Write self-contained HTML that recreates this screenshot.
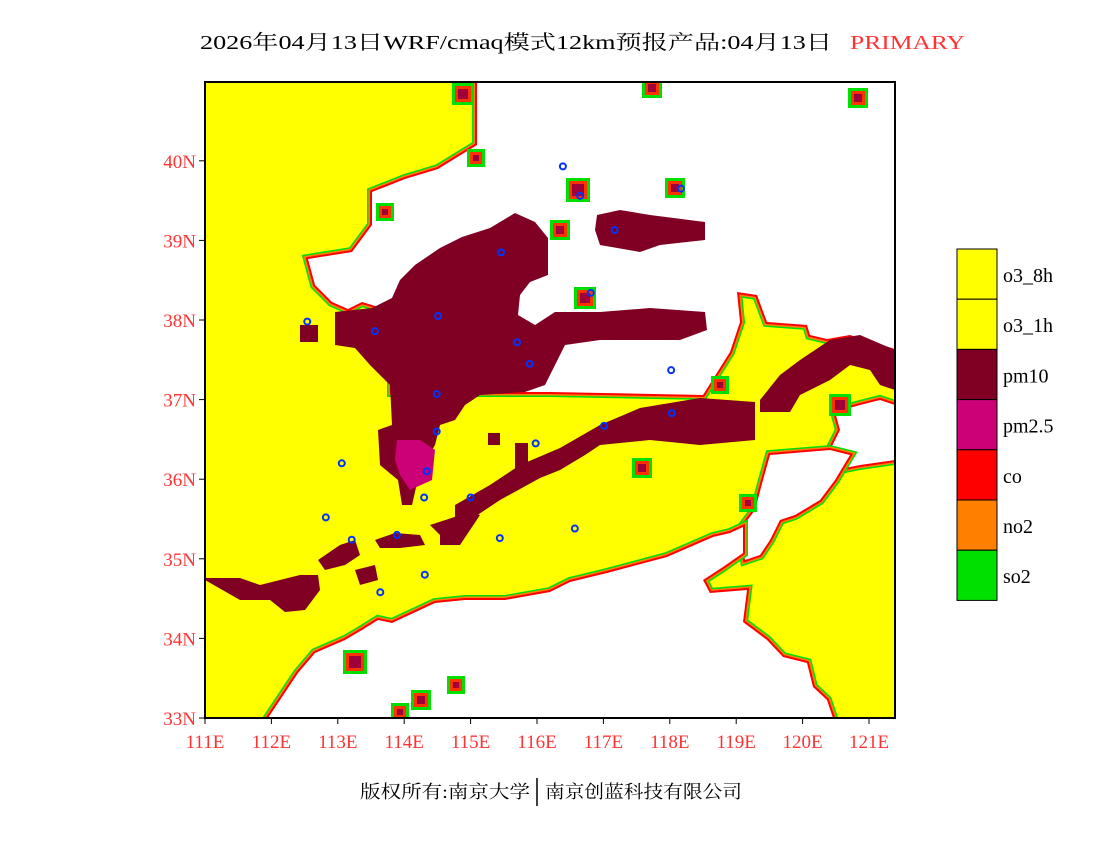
<!DOCTYPE html>
<html><head><meta charset="utf-8"><style>
html,body{margin:0;padding:0;background:#fff;}
svg{display:block;}
text{font-family:"Liberation Serif","Noto Serif CJK SC","Noto Sans CJK SC",serif;}
</style></head><body>
<svg id="map" width="1100" height="850" viewBox="0 0 1100 850" xmlns="http://www.w3.org/2000/svg">
<defs><clipPath id="clip"><rect x="205" y="82" width="690" height="636"/></clipPath></defs>
<text x="200" y="49" font-size="20" textLength="632" lengthAdjust="spacingAndGlyphs" fill="#000">2026年04月13日WRF/cmaq模式12km预报产品:04月13日</text>
<text x="850" y="49" font-size="20" textLength="115" lengthAdjust="spacingAndGlyphs" fill="#ff3333">PRIMARY</text>
<g clip-path="url(#clip)">
<rect x="205" y="82" width="690" height="636" fill="#ffff00"/>
<g id="whites"></g>
<g id="browns"></g>
<g id="stations"></g>
</g>
<rect x="205" y="82" width="690" height="636" fill="none" stroke="#000" stroke-width="2"/>
<g id="xticks"></g>
<g id="yticks"></g>
<g id="legend"></g>
<text x="360" y="798" font-size="18" textLength="170" lengthAdjust="spacingAndGlyphs">版权所有:南京大学</text>
<line x1="537" y1="778" x2="537" y2="806" stroke="#000" stroke-width="1.5"/>
<text x="545" y="798" font-size="18" textLength="197" lengthAdjust="spacingAndGlyphs">南京创蓝科技有限公司</text>
</svg>
<script>
const lonTicks=["111E","112E","113E","114E","115E","116E","117E","118E","119E","120E","121E"];
const lonValues=[111,112,113,114,115,116,117,118,119,120,121];
const latTicks=["33N","34N","35N","36N","37N","38N","39N","40N"];
const latValues=[33,34,35,36,37,38,39,40];
const legendLabels=["o3_8h","o3_1h","pm10","pm2.5","co","no2","so2"];
const legendColors=["#ffff00","#ffff00","#7f0022","#cc0077","#ff0000","#ff8000","#00e000"];
const stationLons=[112.54,113.56,114.51,115.46,115.70,114.49,114.49,114.34,114.30,113.06,112.82,113.21,113.89,115.0,115.44,115.98,116.57,117.01,118.02,118.03,116.39,116.65,116.81,117.17,115.89,118.17,113.64,114.31];
const stationLats=[37.98,37.86,38.05,38.85,37.72,37.07,36.6,36.1,35.77,36.2,35.52,35.24,35.3,35.77,35.26,36.45,35.38,36.67,37.37,36.83,39.93,39.56,38.34,39.13,37.45,39.65,34.58,34.8];
const NS="http://www.w3.org/2000/svg";
function xScale(lon){return 205+(lon-111)*66.4;}
function yScale(lat){return 718-(lat-33)*79.6;}
function mk(tag,attrs,parent){const e=document.createElementNS(NS,tag);for(const k in attrs)e.setAttribute(k,attrs[k]);parent.appendChild(e);return e;}
const whitePolys=[
"477,82 895,82 895,349 850,335 827,339 810,335 807,325 767,322 757,295 737,292 740,322 730,352 713,379 703,395 550,392 392,392 392,300 385,309 362,302 348,309 332,302 315,285 308,259 352,252 372,225 372,192 405,179 438,169 477,145",
"835,412 860,405 880,400 895,405 895,460 860,465 835,470 830,450 840,430",
"770,455 830,450 850,455 835,480 820,500 795,515 780,520 770,540 760,555 745,560 740,530 755,510 763,480",
"268,718 298,673 315,653 345,640 362,630 378,620 392,623 435,603 465,600 505,600 550,592 570,582 607,573 637,565 667,557 690,547 713,537 730,533 743,527 743,553 723,567 703,580 710,593 747,590 743,622 767,640 783,657 807,663 813,687 827,700 833,718"
];
const wg=document.getElementById('whites');
whitePolys.forEach((p,i)=>{
 let e=mk('polygon',{points:p,fill:'#fff',stroke:'#00e000','stroke-width':'10','stroke-linejoin':'miter'},wg);
 
 
 e=mk('polygon',{points:p,fill:'none',stroke:'#ff8000','stroke-width':'7'},wg);
 
 
 e=mk('polygon',{points:p,fill:'none',stroke:'#ff0000','stroke-width':'4'},wg);
 
 
 e=mk('polygon',{points:p,fill:'#fff',stroke:'none'},wg);
 
 
});
const brownPolys=[
"335,312 372,308 392,298 400,280 415,265 440,248 462,237 490,228 515,213 535,222 548,238 548,275 530,282 520,295 518,315 535,325 555,312 600,312 650,308 705,312 707,330 680,340 600,340 565,345 555,365 545,385 525,392 480,395 465,405 455,420 440,425 435,445 420,470 412,505 402,505 398,480 380,465 378,430 392,425 390,385 370,365 355,348 335,345",
"597,215 620,210 650,215 705,222 705,240 660,245 640,252 600,245 595,230",
"455,505 490,485 520,465 560,448 600,425 640,408 700,398 755,402 755,440 700,445 650,440 600,445 585,455 560,470 540,478 500,500 470,520 455,518",
"515,443 528,443 528,477 515,477",
"760,400 780,375 800,360 830,340 860,335 895,350 895,390 880,385 870,370 850,365 830,380 800,395 790,412 760,412",
"205,578 240,578 260,585 300,575 318,575 320,590 305,610 285,612 270,600 240,600 205,580",
"318,560 340,545 355,540 360,555 345,565 325,570",
"355,570 375,565 378,580 360,585",
"375,540 395,533 420,535 425,545 400,548 380,548",
"430,525 470,512 480,515 470,530 440,535",
"300,325 318,325 318,342 300,342",
"440,535 455,525 470,530 460,545 440,545",
"632,458 645,458 645,470 632,470",
"488,433 500,433 500,445 488,445"
];
const bg=document.getElementById('browns');
brownPolys.forEach(p=>{
 const e=mk('polygon',{points:p,fill:'#7f0022'},bg);
 
 
});
const pinkPolys=["397,440 420,440 435,450 432,480 410,490 400,475 395,460"];
pinkPolys.forEach(p=>{
 const e=mk('polygon',{points:p,fill:'#cc0077'},bg);
 
 
});
const blobs=[[463,94,14],[652,88,12],[578,190,16],[560,230,12],[585,298,14],[675,188,12],[385,212,10],[476,158,10],[858,98,12],[355,662,16],[421,700,12],[456,685,10],[400,712,10],[642,468,12],[748,503,10],[840,405,14],[720,385,10]];
blobs.forEach(b=>{
 let e=mk('rect',{x:b[0]-b[2]/2-4,y:b[1]-b[2]/2-4,width:b[2]+8,height:b[2]+8,fill:'#00e000'},bg);
 
 
 e=mk('rect',{x:b[0]-b[2]/2-1,y:b[1]-b[2]/2-1,width:b[2]+2,height:b[2]+2,fill:'#ff3300'},bg);
 
 
 e=mk('rect',{x:b[0]-b[2]/2+2,y:b[1]-b[2]/2+2,width:b[2]-4,height:b[2]-4,fill:'#a0003a'},bg);
 
 
});
const sg=document.getElementById('stations');
stationLons.forEach((lon,i)=>{
 const e=mk('circle',{cx:xScale(lon),cy:yScale(stationLats[i]),r:3,fill:'none',stroke:'#0033ff','stroke-width':'2'},sg);
 
 
});
const xg=document.getElementById('xticks');
lonTicks.forEach((t,i)=>{
 const x=xScale(lonValues[i]);
 let l=mk('line',{x1:x,y1:718,x2:x,y2:724,stroke:'#000'},xg);
 
 
 const e=mk('text',{x:x,y:748,'font-size':'19','text-anchor':'middle',fill:'#ff3333'},xg);
 e.textContent=t;
 
 
});
const yg=document.getElementById('yticks');
latTicks.forEach((t,i)=>{
 const y=yScale(latValues[i]);
 let l=mk('line',{x1:199,y1:y,x2:205,y2:y,stroke:'#000'},yg);
 
 
 const e=mk('text',{x:196,y:y+7,'font-size':'19','text-anchor':'end',fill:'#ff3333'},yg);
 e.textContent=t;
 
 
});
const lg=document.getElementById('legend');
legendLabels.forEach((lab,i)=>{
 const y=249+i*50.2;
 const r=mk('rect',{x:957,y:y,width:40,height:50.2,fill:legendColors[i],stroke:'#000','stroke-width':'1'},lg);
 
 
 const e=mk('text',{x:1003,y:y+33,'font-size':'20',fill:'#000'},lg);
 e.textContent=lab;
 
 
});
</script>
</body></html>
